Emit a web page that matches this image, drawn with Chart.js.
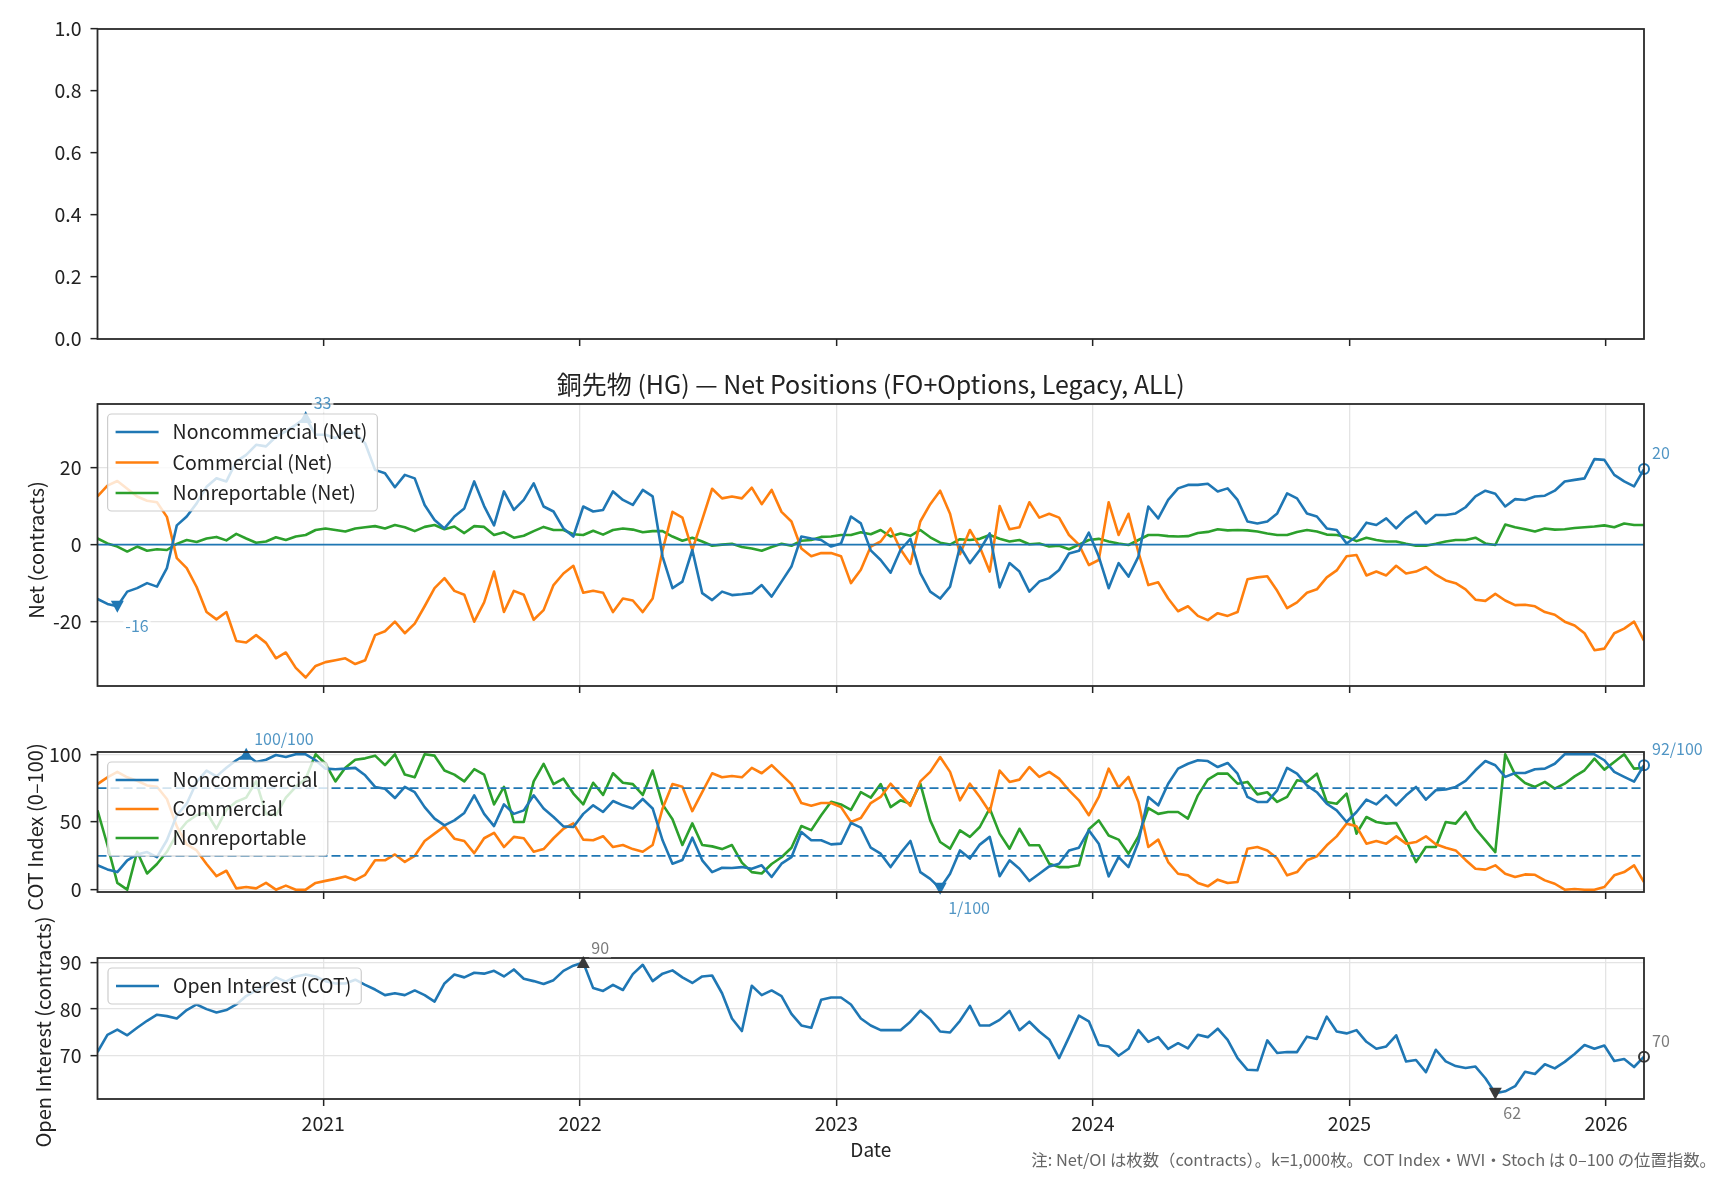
<!DOCTYPE html>
<html>
<head>
<meta charset="utf-8">
<script src="https://cdn.jsdelivr.net/npm/chart.js@4.4.1/dist/chart.umd.min.js"></script>
<style>
  body { margin: 0; background: #fff; }
  #wrap { position: relative; width: 1728px; height: 1180px; }
  #wrap canvas { position: absolute; left: 0; top: 0; }
</style>
</head>
<body>
<div id="wrap">
  <canvas id="cTop" width="1728" height="1180"></canvas>
  <canvas id="cNet" width="1728" height="1180"></canvas>
  <canvas id="cCot" width="1728" height="1180"></canvas>
  <canvas id="cOi" width="1728" height="1180"></canvas>
</div>
<script>
// ---- Data (biweekly samples, thousands of contracts) ----
const netNonComm = [-14.1,-15.4,-16,-12.2,-11.3,-10,-10.9,-6.1,5,7.3,10.7,15,17.2,16.4,21.6,23.3,25.9,25.5,28,29.4,
  31.1,33,28.5,28.5,27.6,29.4,28.9,26.3,19.4,18.5,14.9,18.1,17.2,10.3,6.4,4.2,7.3,9.4,16.4,10,
  5,13.8,9,11.6,15.9,9.9,8.6,4.2,2.1,9.9,8.6,9,13.8,11.6,10.3,14.2,12.5,-3.1,-11.3,-9.6,
  -1.4,-12.6,-14.4,-12.2,-13.1,-12.9,-12.6,-10.5,-13.5,-9.6,-5.7,2.1,1.6,1.2,-0.5,0.3,7.3,5.5,-1.5,-4,
  -7.3,-1.4,1.5,-7.4,-12.2,-14,-10.9,-0.5,-4.8,-1.4,2.9,-11.1,-4.8,-7,-12.2,-9.6,-8.7,-6.6,-2.3,-1.6,
  3.1,-3.1,-11.3,-4.8,-8.3,-3.1,9.9,6.8,11.6,14.6,15.5,15.5,15.8,13.8,14.6,11.6,6,5.5,6,8.1,
  13.3,12,8.1,7.3,4.2,3.8,0.3,2.1,5.7,5.1,6.8,4.2,6.8,8.6,5.5,7.7,7.7,8.1,9.7,12.5,
  14,13.2,9.9,11.8,11.6,12.5,12.7,14,16.4,16.8,17.2,22.2,22,18.1,16.4,15.1,19.6];
const netComm = [12.5,15.3,16.5,14.5,12.5,11.4,11,7.2,-3.5,-6.1,-11,-17.5,-19.4,-17.5,-25,-25.4,-23.5,-25.5,-29.5,-28,
  -32,-34.5,-31.5,-30.5,-30,-29.5,-31,-30,-23.5,-22.5,-20,-23,-20.5,-16,-11.3,-8.7,-12,-13,-20,-15,
  -7,-17.5,-12,-13,-19.5,-17,-10.5,-7.5,-5.5,-12.5,-12,-12.5,-17.5,-14,-14.5,-17.5,-14,-1.5,8.5,7,
  -1.4,6.5,14.5,12,12.5,12,14.8,10.5,14.2,8.5,6,-1,-3,-2.2,-2.2,-3,-10,-6.5,-0.5,0.8,
  4.2,-1.2,-5,6,10.5,14,8,-2.5,3.8,-0.6,-7,10,4,4.5,11,7,8,7,2.5,0,
  -5.3,-4,11,2.5,8,-2,-10.5,-9.8,-14,-17.3,-16,-18.5,-19.6,-17.8,-18.5,-17.5,-9,-8.5,-8.2,-12,
  -16.5,-15,-12.5,-11.6,-8.5,-6.7,-3,-2.7,-8,-7,-8,-5.5,-7.5,-7,-5.8,-7.8,-9.3,-10,-11.6,-14.3,
  -14.6,-12.8,-14.5,-15.7,-15.6,-16,-17.5,-18.2,-20,-21,-23,-27.4,-27,-23,-21.8,-20,-24.9];
const netNonRep = [1.6,0.3,-0.5,-1.8,-0.5,-1.6,-1.2,-1.4,0.2,1.2,0.7,1.6,2,1.1,2.8,1.6,0.5,0.8,1.9,1.2,
  2.1,2.5,3.8,4.2,3.8,3.4,4.2,4.5,4.8,4.2,5.1,4.5,3.5,4.6,5.1,4,4.7,3,4.8,4.6,
  2.5,3.2,1.8,2.3,3.5,4.6,3.8,3.8,2.7,2.5,3.6,2.6,3.8,4.2,3.9,3.2,3.5,3.5,2.1,1,
  1.8,0.8,-0.3,0,0.2,-0.6,-1,-1.6,-0.6,0.2,-0.3,1,1.2,2,2.1,2.5,2.5,3.2,2.7,3.8,
  2.1,2.9,2.3,3.8,1.9,0.5,0,1.4,1.2,1.5,2.5,1.5,0.8,1.2,0.1,0.3,-0.5,-0.3,-1.2,0,
  1.2,1.5,0.8,0.3,-0.1,1.2,2.5,2.5,2.2,2.1,2.2,3,3.3,4,3.7,3.8,3.7,3.4,2.9,2.5,
  2.5,3.3,3.8,3.4,2.6,2.5,2,0.9,1.8,1.2,0.8,0.8,0.2,-0.3,-0.3,0.2,0.8,1.2,1.2,1.8,
  0.3,-0.1,5.2,4.5,4,3.4,4.2,3.9,4,4.3,4.5,4.7,5,4.5,5.5,5.1,5.1];

const cotNonComm = [18,15,13,21.7,26,27.8,24,36.5,55,63.5,79.6,88,83.7,90,95.6,100,94.3,96,99.5,98,
  100,100,95.6,89.4,89,89.4,90,84.5,75.9,74.6,67.7,75.9,72,61,52.5,47.5,51.2,56.7,69.7,56,
  47,63,56,58.6,69.7,60,53.7,46.8,46.3,56,62.3,57.4,65.5,62.3,60,67,60,36.5,19.2,22,
  38.4,21.7,13,16.2,16,16.7,15.5,18,9.4,19.2,24,42.6,36.5,36.5,33.5,34,49.3,45.8,31,26.6,
  16.7,27,36,13,8,1,11.8,29,23,33.3,39,9.9,21.7,15.5,6.4,11.8,17.2,19.2,29,31,
  43.8,34,9.9,24,16.7,35.2,68.5,62.3,78.3,89.4,93,95.6,95,90.6,93.6,85.7,68.5,64.8,64.8,73.4,
  90,85.7,77,72,63.5,58.6,50,57.4,66.5,63,69.7,62.3,69.7,75.9,66.5,73.4,74,75.9,80.3,88.2,
  95,91.9,83.3,86.2,86.2,89,89.4,93,100,100,100,100,95.6,87,83.3,79.8,92];
const cotComm = [78,83,87,83,80.5,77,76,67,46.8,33.5,29,19,10,14,1,2,1,5,0,3,
  0,0,5,6.5,8,9.8,7,11,21.7,21.7,26,20.5,25,36,41.4,46.8,37.7,36,27,38,
  42,31.5,39,38,28,30,38,45,49,37,36.5,39.5,31.5,33,30,28,33,60,78,76,
  58,72,86,83,84,83,90,86,92,85,78,64,62,64,64,61,50,53,64,68.5,
  78.3,70,62,80,87,98,87,66,78.3,68.5,57.4,88,79.6,81.3,90.6,83.3,87,82,73.4,66,
  55,68.5,89.4,75.4,83.3,64.8,31.5,37,20.4,11.8,10.6,5,2.5,7.4,5,5.7,30.3,31.5,29,23,
  10.6,13,21.7,24.6,32.8,39.4,48.8,46.8,34,36,34,39.4,34,35.2,39.4,33.5,31,29,22,15.5,
  14.8,18,11.8,9.4,11.3,11,6.9,4.4,0,0.5,0,0,2,10.6,13,18,5.7];
const cotNonRep = [58.6,33,5,0,28,12,19,28,41,50,55,57,45,59,65,68,80,56,55,68,
  76,82,100,93,80,90,96,97,99,92,100,85,83,100,99,88,85,80,89,85,
  63,76,50,50,80,93,78,82,71,63,79,70,86,79,78,70,88,63,52,33,
  49,33,32,30,33,20,13,12,19,24,31,47,44,55,65,63,59,72,68,78,
  61,66,63.5,78.3,51.2,35.2,30.3,43.8,39,46.3,60,41.4,30.3,45,32.8,32.8,19.2,16.7,16.7,18,
  44.6,51.2,40,37,26.6,39.4,60.3,56,57.4,57.4,52.5,69.7,81.3,85.7,85.7,78.3,79.6,70.4,72,64.8,
  68.5,80.8,79.6,85.7,64.8,63.5,71,41.4,53.7,50,48.8,49.3,36.5,20.4,31.5,31.5,50,48.8,57.4,45,
  36.5,27.8,100,85,78.8,75.9,79.6,74.6,78.3,83.7,88.2,96.8,88.7,94.3,100,89.4,90];

const openInterest = [70.8,74.5,75.6,74.4,76,77.5,78.8,78.5,78,79.8,81,80,79.3,79.8,81,82.8,84,85,86.8,85.9,
  87,87.4,87,86,85.5,85.5,86.3,85.2,84.2,83,83.4,83,84,83,81.6,85.5,87.4,86.8,87.8,87.6,
  88.2,87,88.5,86.5,86,85.4,86.2,88.2,89.3,90,84.5,83.9,85.2,84.1,87.5,89.5,86,87.6,88.3,86.8,
  85.6,87,87.2,83.4,78,75.3,85,83,84,82.8,79,76.5,76,82,82.5,82.5,81,78,76.5,75.5,
  75.5,75.5,77.3,79.7,77.9,75.2,75,77.5,80.7,76.5,76.5,77.7,79.6,75.5,77.3,75.2,73.5,69.5,74,78.6,
  77.4,72.3,72,70,71.5,75.5,73,74,71.5,72.7,71.6,74.5,74,75.8,73.4,69.5,67,66.9,73.3,70.6,
  70.8,70.8,74.1,73.6,78.4,75.2,74.8,75.5,73,71.5,72,74.4,68.8,69.1,66.5,71.3,68.8,67.8,67.4,67.7,
  65.2,62,62.4,63.5,66.6,66.1,68.2,67.3,68.7,70.4,72.3,71.5,72.2,68.9,69.3,67.6,69.8];

// report dates as decimal years, first and last plotted weeks
const firstReport = 2020.12;
const lastReport = 2026.148;
const reportDates = netNonComm.map((_, i) => firstReport + i * (lastReport - firstReport) / (netNonComm.length - 1));

const yearTicks = [2021, 2022, 2023, 2024, 2025, 2026];
const topTicks = [0, 0.2, 0.4, 0.6, 0.8, 1.0];
const netTicks = [-20, 0, 20];
const cotTicks = [0, 50, 100];
const oiTicks = [70, 80, 90];
const cotBands = [25, 75];

// ---- Layout / styles ----
const W = 1728, H = 1180;
const PLOT_L = 97.5, PLOT_R = 1644;
const FONT = '"Noto Sans CJK JP", "Noto Sans", sans-serif';
const C0 = '#1f77b4', C1 = '#ff7f0e', C2 = '#2ca02c';
const GRID = '#e4e4e4';
const INK = '#222';
const TICK_FS = 19.5;
const LEGEND_FS = 19.5;
const BLUE_LABEL = 'rgba(31,119,180,0.78)';
const GRAY_LABEL = 'rgba(70,70,70,0.72)';

function series(values, color) {
  return {
    data: values.map((v, i) => ({ x: reportDates[i], y: v })),
    borderColor: color,
    borderWidth: 2.6,
    pointRadius: 0,
    tension: 0,
    borderJoinStyle: 'round',
    fill: false
  };
}

function boxPath(ctx, x, y, w, h, r) {
  ctx.beginPath();
  ctx.moveTo(x + r, y);
  ctx.lineTo(x + w - r, y);
  ctx.arcTo(x + w, y, x + w, y + r, r);
  ctx.lineTo(x + w, y + h - r);
  ctx.arcTo(x + w, y + h, x + w - r, y + h, r);
  ctx.lineTo(x + r, y + h);
  ctx.arcTo(x, y + h, x, y + h - r, r);
  ctx.lineTo(x, y + r);
  ctx.arcTo(x, y, x + r, y, r);
  ctx.closePath();
}

function drawLegend(ctx, lg) {
  ctx.save();
  ctx.font = `${LEGEND_FS}px ${FONT}`;
  const textW = Math.max(...lg.items.map(it => ctx.measureText(it.label).width));
  const w = 65 + textW + 10;
  const h = (lg.items.length - 1) * lg.row + 36;
  boxPath(ctx, lg.left, lg.top, w, h, 4);
  ctx.fillStyle = 'rgba(255,255,255,0.8)';
  ctx.fill();
  ctx.strokeStyle = 'rgba(200,200,200,0.9)';
  ctx.lineWidth = 1.2;
  ctx.stroke();
  lg.items.forEach((it, k) => {
    const cy = lg.top + 18 + k * lg.row;
    ctx.strokeStyle = it.color;
    ctx.lineWidth = 2.6;
    ctx.beginPath();
    ctx.moveTo(lg.left + 8, cy);
    ctx.lineTo(lg.left + 51, cy);
    ctx.stroke();
    ctx.fillStyle = INK;
    ctx.textAlign = 'left';
    ctx.textBaseline = 'middle';
    ctx.fillText(it.label, lg.left + 65, cy);
  });
  ctx.restore();
}

function boxedText(ctx, txt, x, yc, color) {
  ctx.font = `16px ${FONT}`;
  ctx.textAlign = 'left';
  ctx.textBaseline = 'middle';
  const w = ctx.measureText(txt).width;
  ctx.fillStyle = 'rgba(255,255,255,0.7)';
  ctx.fillRect(x - 2, yc - 10, w + 4, 20);
  ctx.fillStyle = color;
  ctx.fillText(txt, x, yc);
}

function drawMarker(ctx, kind, x, y, color) {
  ctx.save();
  ctx.fillStyle = color;
  ctx.strokeStyle = color;
  if (kind === 'max') {
    ctx.beginPath();
    ctx.moveTo(x, y - 6.5); ctx.lineTo(x + 6.5, y + 5.5); ctx.lineTo(x - 6.5, y + 5.5);
    ctx.closePath(); ctx.fill();
  } else if (kind === 'min') {
    ctx.beginPath();
    ctx.moveTo(x, y + 6.5); ctx.lineTo(x + 6.5, y - 5.5); ctx.lineTo(x - 6.5, y - 5.5);
    ctx.closePath(); ctx.fill();
  } else {
    ctx.lineWidth = 2;
    ctx.beginPath(); ctx.arc(x, y, 5, 0, Math.PI * 2); ctx.stroke();
  }
  ctx.restore();
}

// frame, reference lines, markers, legend and texts
const decor = {
  id: 'decor',
  afterDatasetsDraw(chart, args, o) {
    const ctx = chart.ctx;
    const a = chart.chartArea;
    const xs = chart.scales.x, ys = chart.scales.y;
    ctx.save();

    (o.refLines || []).forEach(r => {
      const py = ys.getPixelForValue(r.value);
      ctx.strokeStyle = C0;
      ctx.lineWidth = r.dash ? 1.9 : 1.7;
      ctx.setLineDash(r.dash || []);
      ctx.beginPath(); ctx.moveTo(a.left, py); ctx.lineTo(a.right, py); ctx.stroke();
    });
    ctx.setLineDash([]);

    const pts = [];
    if (o.markers) {
      const m = o.markers;
      const vals = m.values;
      let iMax = 0, iMin = 0;
      vals.forEach((v, i) => { if (v > vals[iMax]) iMax = i; if (v < vals[iMin]) iMin = i; });
      const iLast = vals.length - 1;
      [['max', iMax], ['min', iMin], ['last', iLast]].forEach(([kind, i]) => {
        const px = xs.getPixelForValue(reportDates[i]);
        const py = ys.getPixelForValue(vals[i]);
        drawMarker(ctx, kind, px, py, m.color);
        pts.push({ kind, px, py, txt: m.fmt(vals[i]) });
      });
    }

    if (o.legend) drawLegend(ctx, o.legend);

    ctx.strokeStyle = '#2a2a2a';
    ctx.lineWidth = 1.8;
    ctx.strokeRect(a.left, a.top, a.right - a.left, a.bottom - a.top);

    pts.forEach(p => {
      const dy = p.kind === 'min' ? 20 : (p.kind === 'max' ? -15 : -16);
      boxedText(ctx, p.txt, p.px + 8, p.py + dy, o.markers.labelColor);
    });

    if (o.yTitle) {
      ctx.save();
      ctx.font = `20px ${FONT}`;
      ctx.fillStyle = INK;
      ctx.textAlign = 'center';
      ctx.textBaseline = 'middle';
      ctx.translate(o.yTitle.x, o.yTitle.y);
      ctx.rotate(-Math.PI / 2);
      ctx.fillText(o.yTitle.text, 0, 0);
      ctx.restore();
    }

    (o.texts || []).forEach(t => {
      ctx.font = `${t.size}px ${FONT}`;
      ctx.fillStyle = t.color || INK;
      ctx.textAlign = t.align || 'center';
      ctx.textBaseline = 'middle';
      ctx.fillText(t.text, t.x, t.y);
    });
    ctx.restore();
  }
};

function makePanel(id, top, bottom, cfg) {
  const xAxisH = cfg.xLabels ? 60 : 10;
  return new Chart(document.getElementById(id), {
    type: 'line',
    data: { datasets: cfg.datasets },
    options: {
      responsive: false,
      animation: false,
      events: [],
      layout: { padding: { left: 0, right: W - PLOT_R, top: top, bottom: H - bottom - xAxisH } },
      plugins: { legend: { display: false }, tooltip: { enabled: false }, decor: cfg.decor },
      scales: {
        x: {
          type: 'linear',
          min: firstReport,
          max: lastReport,
          afterFit: s => { s.height = xAxisH; },
          afterBuildTicks: s => { s.ticks = yearTicks.map(v => ({ value: v })); },
          border: { display: false },
          grid: { drawOnChartArea: cfg.grid, color: GRID, lineWidth: 1.3, drawTicks: true, tickLength: 7, tickColor: INK, tickWidth: 1.5 },
          ticks: { display: !!cfg.xLabels, padding: 6, color: INK, font: { family: FONT, size: TICK_FS }, callback: v => String(v), maxRotation: 0, autoSkip: false }
        },
        y: {
          min: cfg.yMin,
          max: cfg.yMax,
          afterFit: s => { s.width = PLOT_L; },
          afterBuildTicks: s => { s.ticks = cfg.yTicks.map(v => ({ value: v })); },
          border: { display: false },
          grid: { drawOnChartArea: cfg.grid, color: GRID, lineWidth: 1.3, drawTicks: true, tickLength: 7, tickColor: INK, tickWidth: 1.5 },
          ticks: { padding: 9, color: INK, font: { family: FONT, size: TICK_FS }, callback: cfg.yFmt }
        }
      }
    },
    plugins: [decor]
  });
}

const centerX = (PLOT_L + PLOT_R) / 2;

makePanel('cTop', 29, 339, {
  datasets: [],
  grid: false,
  yMin: 0, yMax: 1, yTicks: topTicks,
  yFmt: v => v.toFixed(1),
  decor: {}
});

makePanel('cNet', 404, 686, {
  datasets: [series(netNonComm, C0), series(netComm, C1), series(netNonRep, C2)],
  grid: true,
  yMin: -36.7, yMax: 36.5, yTicks: netTicks,
  yFmt: v => String(v),
  decor: {
    refLines: [{ value: 0 }],
    markers: { values: netNonComm, color: C0, labelColor: BLUE_LABEL, fmt: v => String(Math.round(v)) },
    legend: { left: 107.6, top: 414, row: 30.5, items: [
      { label: 'Noncommercial (Net)', color: C0 },
      { label: 'Commercial (Net)', color: C1 },
      { label: 'Nonreportable (Net)', color: C2 }] },
    yTitle: { text: 'Net (contracts)', x: 36.5, y: 550 },
    texts: [{ text: '銅先物 (HG) — Net Positions (FO+Options, Legacy, ALL)', x: centerX, y: 384, size: 25 }]
  }
});

makePanel('cCot', 752, 892, {
  datasets: [series(cotNonComm, C0), series(cotComm, C1), series(cotNonRep, C2)],
  grid: true,
  yMin: -1.7, yMax: 101.7, yTicks: cotTicks,
  yFmt: v => String(v),
  decor: {
    refLines: cotBands.map(v => ({ value: v, dash: [9, 4] })),
    markers: { values: cotNonComm, color: C0, labelColor: BLUE_LABEL, fmt: v => Math.round(v) + '/100' },
    legend: { left: 107.6, top: 762, row: 29, items: [
      { label: 'Noncommercial', color: C0 },
      { label: 'Commercial', color: C1 },
      { label: 'Nonreportable', color: C2 }] },
    yTitle: { text: 'COT Index (0–100)', x: 35.7, y: 827 }
  }
});

makePanel('cOi', 958, 1099, {
  datasets: [series(openInterest, C0)],
  grid: true,
  xLabels: true,
  yMin: 60.75, yMax: 90.95, yTicks: oiTicks,
  yFmt: v => String(v),
  decor: {
    markers: { values: openInterest, color: '#3a3a3a', labelColor: GRAY_LABEL, fmt: v => String(Math.round(v)) },
    legend: { left: 108, top: 968, row: 30, items: [{ label: 'Open Interest (COT)', color: C0 }] },
    yTitle: { text: 'Open Interest (contracts)', x: 43, y: 1032 },
    texts: [
      { text: 'Date', x: centerX, y: 1150, size: 19 },
      { text: '注: Net/OI は枚数（contracts）。k=1,000枚。COT Index・WVI・Stoch は 0–100 の位置指数。', x: 1716, y: 1160, size: 16.4, align: 'right', color: '#666' }
    ]
  }
});
</script>
</body>
</html>
